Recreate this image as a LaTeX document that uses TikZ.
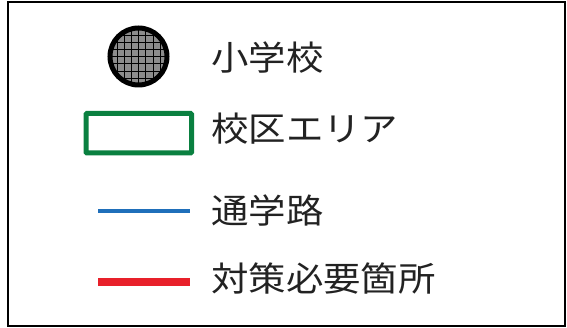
\documentclass[tikz,border=0pt]{standalone}
\usepackage{fontspec}
\usepackage{graphicx}
\newfontfamily\cjk{Noto Sans CJK JP}
\definecolor{zonegreen}{HTML}{0A8040}
\definecolor{routeblue}{HTML}{1F6FBA}
\definecolor{alertred}{HTML}{E8202A}
\definecolor{txt}{HTML}{222222}
\newcommand{\wide}[1]{\scalebox{1.1}[1]{#1}}
\begin{document}
\begin{tikzpicture}[x=1pt,y=-1pt,
  lbl/.style={anchor=west,inner sep=0pt,font=\cjk\fontsize{34}{34}\selectfont,text=txt}]
\useasboundingbox (0,0) rectangle (567,328);
\draw[line width=2.2pt] (8,2) rectangle (565,326);
% school symbol
\coordinate (sc) at (138.5,56.5);
\begin{scope}
\clip (sc) circle (28);
\fill[gray!90!white] (sc) circle (28);
\foreach \i in {-4,...,4}{
  \draw[line width=0.6pt] ([xshift=\i*7.2]sc) ++(0,-30) -- ++(0,60);
  \draw[line width=0.6pt] ([yshift=\i*7.2]sc) ++(-30,0) -- ++(60,0);
}
\end{scope}
\draw[line width=5pt] (sc) circle (28.5);
\node[lbl] (t1) at (211,57.5) {\wide{小学校}};
% zone
\draw[zonegreen,line width=5pt,rounded corners=1pt] (86,113.5) rectangle (191.5,153);
\node[lbl] (t2) at (211,129) {\wide{校区エリア}};
% route
\coordinate (b1) at (98,211);
\coordinate (b2) at (190,211);
\draw[routeblue,line width=3.5pt] (b1) -- (b2);
\node[lbl] (t3) at (211,211) {\wide{通学路}};
% needs action
\coordinate (r1) at (98,282);
\coordinate (r2) at (190,282);
\draw[alertred,line width=8pt] (r1) -- (r2);
\node[lbl] (t4) at (211,278.5) {\wide{対策必要箇所}};
\end{tikzpicture}
\end{document}
